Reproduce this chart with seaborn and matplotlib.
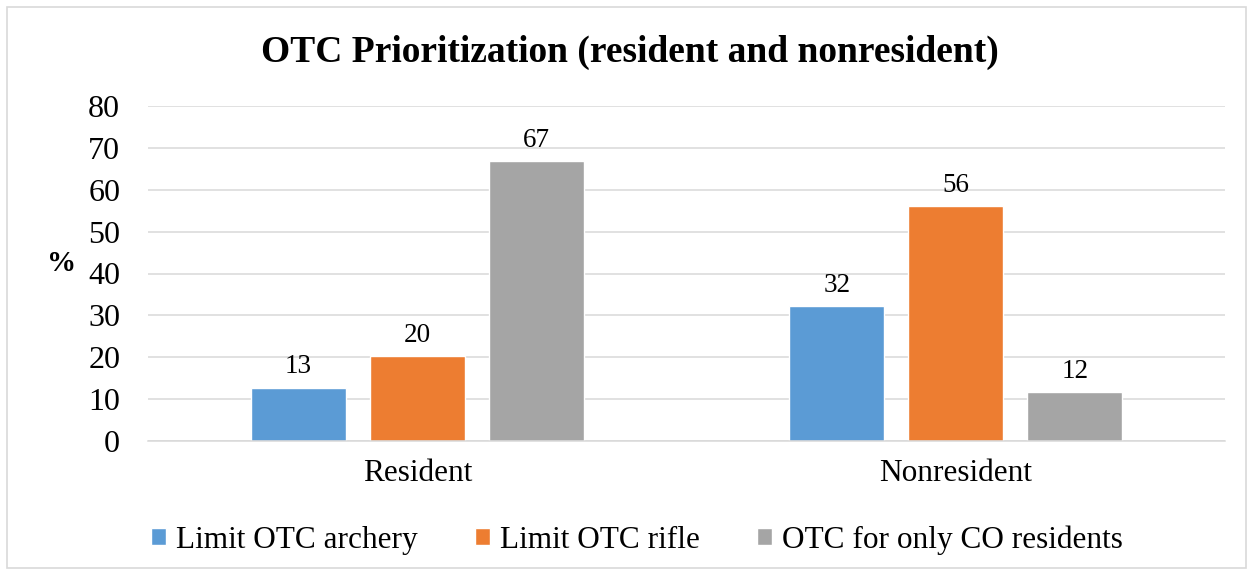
import matplotlib
matplotlib.use("Agg")
import matplotlib.pyplot as plt
import matplotlib.patches as mpatches
import seaborn as sns
import pandas as pd

groups = ["Resident", "Nonresident"]
series = ["Limit OTC archery", "Limit OTC rifle", "OTC for only CO residents"]
archery = [12.7, 32.2]
rifle = [20.3, 56.1]
co_only = [66.8, 11.7]
colors = ["#5B9BD5", "#ED7D31", "#A5A5A5"]
yticks = [0, 10, 20, 30, 40, 50, 60, 70, 80]

rows = []
for s, vals in zip(series, [archery, rifle, co_only]):
    for g, v in zip(groups, vals):
        rows.append({"group": g, "series": s, "value": v})
df = pd.DataFrame(rows)

sns.set_theme(style="white")
plt.rcParams["font.family"] = ["Liberation Serif", "DejaVu Serif"]
plt.rcParams["text.color"] = "black"
plt.rcParams["xtick.color"] = "black"
plt.rcParams["ytick.color"] = "black"
plt.rcParams["axes.labelcolor"] = "black"

fig = plt.figure(figsize=(12.53, 5.75), dpi=100)
ax = fig.add_axes([148/1253, 1-441/575, (1225-148)/1253, (441-106)/575])

sns.barplot(data=df, x="group", y="value", hue="series", order=groups,
            hue_order=series, palette=colors, width=0.663, gap=0.2,
            saturation=1, ax=ax, errorbar=None)

for c in ax.containers:
    ax.bar_label(c, fmt="%.0f", padding=6, fontsize=19.5, color="black")

ax.set_xlim(-0.5, 1.5)
ax.set_ylim(0, 80)
ax.set_yticks(yticks)
ax.tick_params(axis="y", labelsize=23, pad=20, length=0, labelcolor="black")
ax.tick_params(axis="x", labelsize=22.5, pad=13, length=0, labelcolor="black")
ax.yaxis.grid(True, color="#d9d9d9", linewidth=1.1)
ax.set_axisbelow(True)
for s in ["top", "right", "left"]:
    ax.spines[s].set_visible(False)
ax.spines["bottom"].set_color("#d9d9d9")
ax.spines["bottom"].set_linewidth(1.1)
ax.set_xlabel("")
ax.set_ylabel("%", rotation=0, fontsize=21, fontweight="bold", color="black")
ax.yaxis.set_label_coords(-0.08, 0.49)

handles, labels = ax.get_legend_handles_labels()
ax.get_legend().remove()
fig.legend(handles, labels, loc="center", bbox_to_anchor=(637/1253, 1-540/575),
           ncol=3, frameon=False, fontsize=22.5, handlelength=0.48, handleheight=0.48,
           handletextpad=0.3, columnspacing=1.85, labelcolor="black")

fig.text(630/1253, 1-52/575, "OTC Prioritization (resident and nonresident)",
         ha="center", va="center", fontsize=27, fontweight="bold", color="black")

fig.patches.append(mpatches.Rectangle((7/1253, 7/575), (1246-7)/1253, (568-7)/575,
                                      transform=fig.transFigure, fill=False,
                                      edgecolor="#d9d9d9", linewidth=1.2))

fig.savefig("out.png", dpi=100)
